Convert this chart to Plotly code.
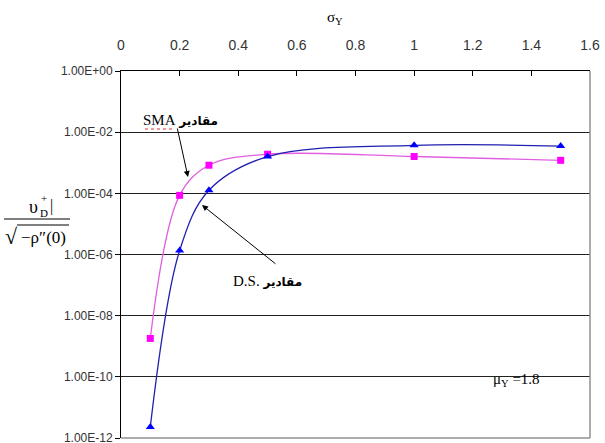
import plotly.graph_objects as go

# ---- data ----
sigma_y = [0.1, 0.2, 0.3, 0.5, 1.0, 1.5]
sma_values = [1.8e-9, 8.6e-5, 8.3e-4, 1.9e-3, 1.6e-3, 1.2e-3]
ds_values = [2.3e-12, 1.35e-6, 1.26e-4, 1.6e-3, 3.7e-3, 3.5e-3]
y_tick_vals = [1e0, 1e-2, 1e-4, 1e-6, 1e-8, 1e-10, 1e-12]
y_tick_text = ["1.00E+00", "1.00E-02", "1.00E-04", "1.00E-06", "1.00E-08", "1.00E-10", "1.00E-12"]

W, H = 605, 443
L, R, T, B = 121, 590, 71, 438


def px(x):
    return (x - L) / (R - L)


def py(y):
    return (B - y) / (B - T)


fig = go.Figure()
fig.add_trace(go.Scatter(
    x=sigma_y, y=sma_values, mode="lines+markers", name="SMA",
    line=dict(color="#E060E0", width=1.3, shape="spline", smoothing=1),
    marker=dict(symbol="square", size=7, color="#FF00FF"),
))
fig.add_trace(go.Scatter(
    x=sigma_y, y=ds_values, mode="lines+markers", name="D.S.",
    line=dict(color="#2020B0", width=1.3, shape="spline", smoothing=1),
    marker=dict(symbol="triangle-up", size=8, color="#0000FF"),
))

serif = "Liberation Serif, Times New Roman, DejaVu Serif"
arab = "Liberation Serif, DejaVu Sans"

shapes = [
    # gaps in gridlines behind text
    dict(type="rect", xref="paper", yref="paper", x0=px(122), x1=px(237), y0=py(138), y1=py(128),
         fillcolor="white", line=dict(width=0), layer="between"),
    dict(type="rect", xref="paper", yref="paper", x0=px(477), x1=px(557), y0=py(382), y1=py(372),
         fillcolor="white", line=dict(width=0), layer="between"),
    # gray right and bottom borders
    dict(type="line", xref="paper", yref="paper", x0=1, x1=1, y0=0, y1=1,
         line=dict(color="#909090", width=1.5), layer="above"),
    dict(type="line", xref="paper", yref="paper", x0=0, x1=1, y0=0, y1=0,
         line=dict(color="#909090", width=1.5), layer="above"),
    # fraction line of y label
    dict(type="line", xref="paper", yref="paper", x0=px(4), x1=px(70), y0=py(219), y1=py(219),
         line=dict(color="black", width=1)),
    # sqrt overline
    dict(type="line", xref="paper", yref="paper", x0=px(17), x1=px(69), y0=py(225), y1=py(225),
         line=dict(color="black", width=1)),
    # red wavy underline under SMA
    dict(type="line", xref="paper", yref="paper", x0=px(145), x1=px(175), y0=py(129), y1=py(129),
         line=dict(color="#E03030", width=1, dash="dot")),
]


def ann(x, y, text, size, family=serif, **kw):
    d = dict(xref="paper", yref="paper", x=px(x), y=py(y), showarrow=False,
             xanchor="center", yanchor="middle", text=text,
             font=dict(family=family, size=size, color="black"))
    d.update(kw)
    return d


AR = "<span style='font-size:12px'><b>مقادير</b></span>"

annotations = [
    ann(335, 18, "σ<sub>Y</sub>", 15),
    # SMA label + arrow
    ann(180, 120, "SMA\u00a0" + AR, 15, family=arab),
    dict(xref="paper", yref="paper", x=px(188), y=py(177), ax=-11, ay=-50,
         showarrow=True, arrowhead=2, arrowsize=1.2, arrowwidth=1, arrowcolor="black", text=""),
    # D.S. label + arrow
    ann(267, 281, "D.S.\u00a0" + AR, 15, family=arab),
    dict(xref="paper", yref="paper", x=px(202), y=py(205), ax=75, ay=60,
         showarrow=True, arrowhead=2, arrowsize=1.2, arrowwidth=1, arrowcolor="black", text=""),
    # mu label
    ann(516, 380, "μ<sub>Y</sub> =1.8", 15),
    # y-axis label pieces
    ann(33, 207, "υ", 18),
    ann(44, 213, "D", 11),
    ann(44, 198, "+", 11),
    ann(51, 206, "|", 16),
    ann(11, 236, "√", 22),
    ann(43, 238, "−ρ″(0)", 17),
]

fig.update_layout(
    width=W, height=H,
    margin=dict(l=L, r=W - R, t=T, b=H - B),
    paper_bgcolor="white", plot_bgcolor="white",
    showlegend=False,
    shapes=shapes, annotations=annotations,
    xaxis=dict(side="top", range=[0, 1.6], dtick=0.2, tick0=0,
               ticks="inside", ticklen=5, tickcolor="black",
               showline=True, linecolor="black", linewidth=1,
               showgrid=False, zeroline=False, automargin=False,
               ticklabelstandoff=14, ticklabeloverflow="allow",
               tickfont=dict(family="Liberation Sans Narrow, Arial Narrow, Liberation Sans", size=14, color="#333")),
    yaxis=dict(type="log", range=[-12, 0],
               tickvals=y_tick_vals, ticktext=y_tick_text,
               ticks="outside", ticklen=5, tickcolor="black",
               showline=True, linecolor="black", linewidth=1,
               showgrid=True, gridcolor="#222", gridwidth=1,
               zeroline=False, automargin=False, ticklabeloverflow="allow",
               tickfont=dict(family="Liberation Sans, Arial", size=12, color="#333")),
)

fig.write_html("out.html", config={"displayModeBar": False},
               post_script="document.body.style.margin='0';")
